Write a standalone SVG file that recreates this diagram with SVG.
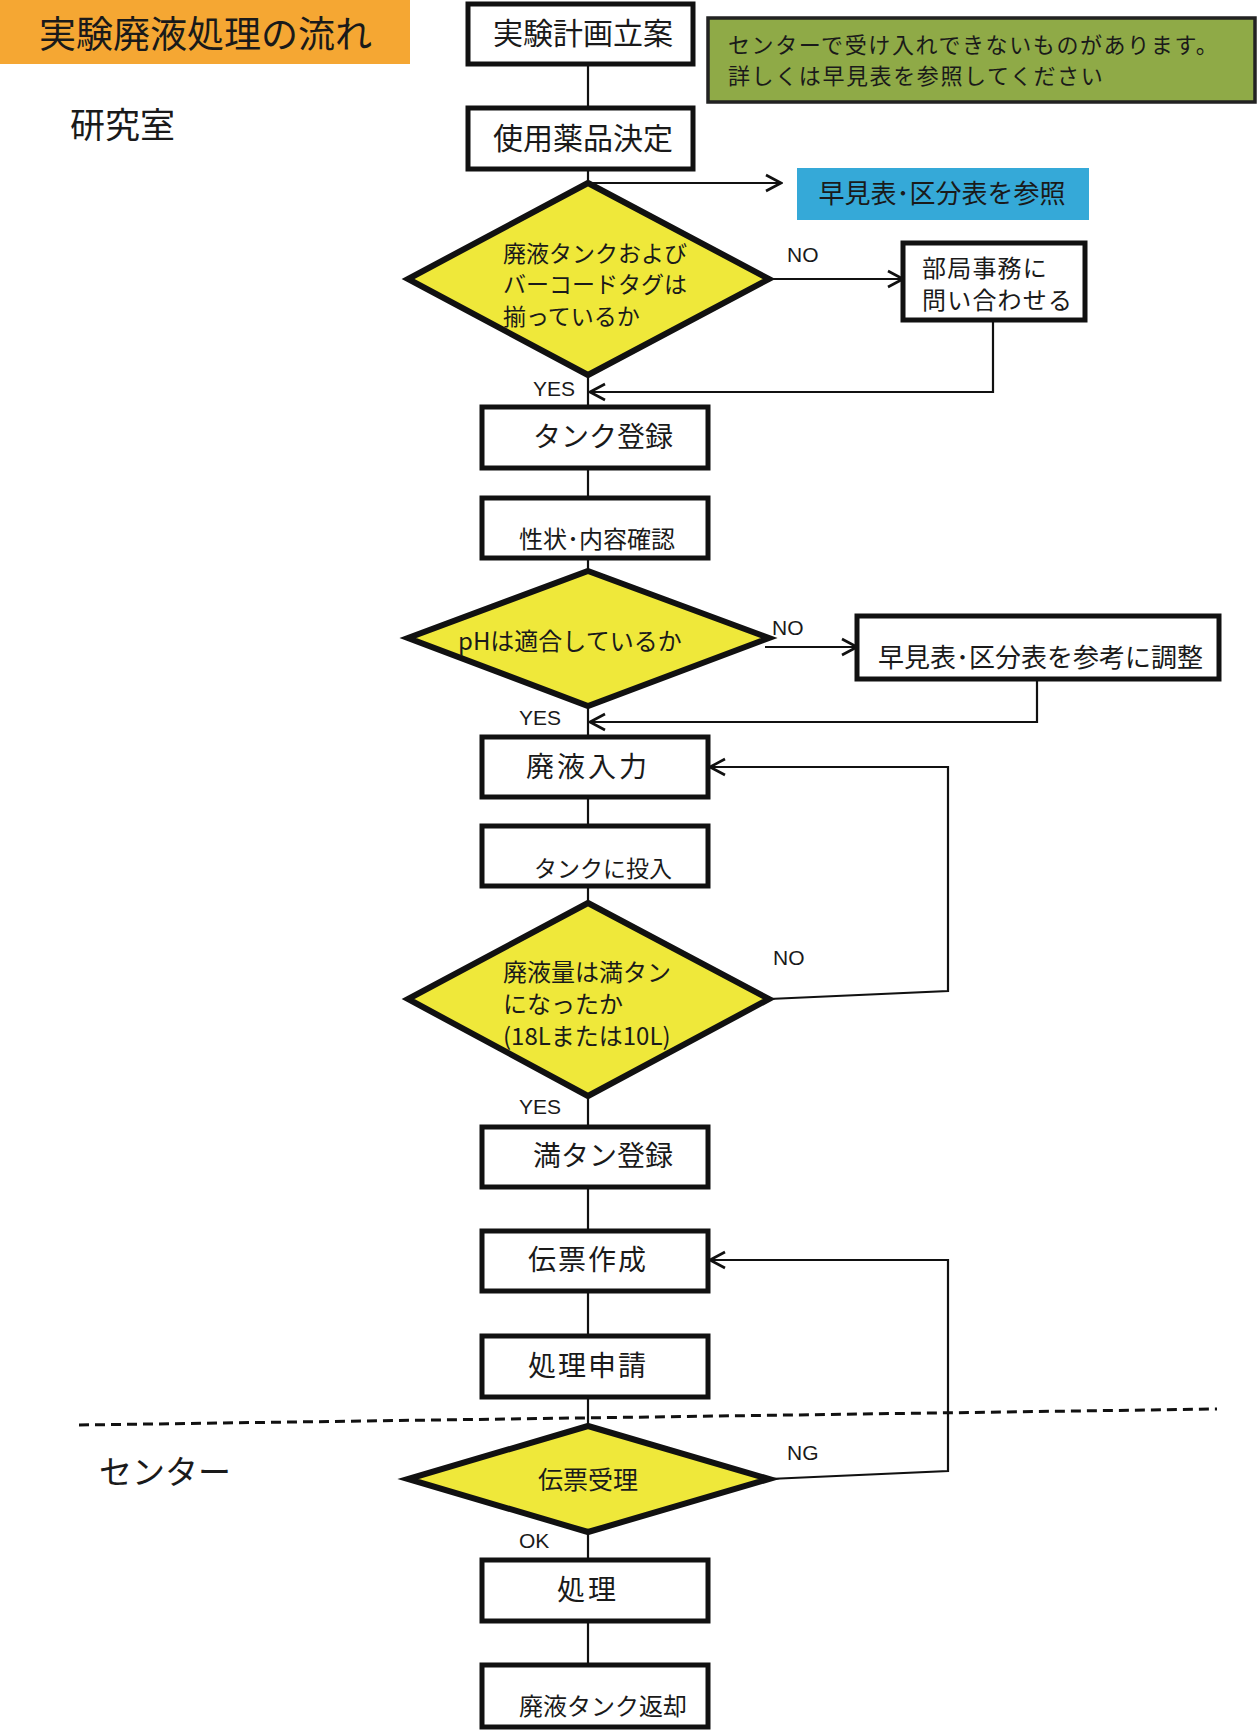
<svg xmlns="http://www.w3.org/2000/svg" width="1258" height="1730" viewBox="0 0 1258 1730">
<defs>
<style>
.t{font-family:"Noto Sans CJK JP","Noto Sans",sans-serif;fill:#1a1a1a;}
.l{font-family:"Liberation Sans","Noto Sans",sans-serif;fill:#1a1a1a;font-size:21px;}
.box{fill:#fff;stroke:#111;stroke-width:5;}
.dia{fill:#EFE83A;stroke:#111;stroke-width:6;stroke-linejoin:miter;}
.c{fill:none;stroke:#111;stroke-width:2.2;}
</style>
<marker id="ah" viewBox="0 0 20 20" refX="18" refY="10" markerWidth="20" markerHeight="20" markerUnits="userSpaceOnUse" orient="auto">
<path d="M3,2 L18,10 L3,18" fill="none" stroke="#111" stroke-width="2.6"/>
</marker>
</defs>
<rect width="1258" height="1730" fill="#fff"/>

<g id="title">
<rect x="0" y="0" width="410" height="64" fill="#F5A733"/>
<text class="t" x="39" y="48" font-size="37">実験廃液処理の流れ</text>
</g>
<g id="lab-label"><text class="t" x="70" y="138" font-size="35">研究室</text></g>
<g id="center-label"><text class="t" x="99" y="1484" font-size="33">センター</text></g>

<g id="note">
<rect x="708" y="18" width="547" height="84" fill="#8FAA47" stroke="#222" stroke-width="3.5"/>
<text class="t" x="728" y="53" font-size="22" letter-spacing="1.6">センターで受け入れできないものがあります。</text>
<text class="t" x="728" y="84" font-size="22" letter-spacing="1.6">詳しくは早見表を参照してください</text>
</g>

<g id="connectors">
<line class="c" x1="588" y1="64" x2="588" y2="107"/>
<line class="c" x1="588" y1="169" x2="588" y2="183"/>
<line class="c" x1="588" y1="183" x2="781" y2="183" marker-end="url(#ah)"/>
<line class="c" x1="769" y1="279" x2="903" y2="279" marker-end="url(#ah)"/>
<polyline class="c" points="993,320 993,392 590,392" marker-end="url(#ah)"/>
<line class="c" x1="588" y1="375" x2="588" y2="406"/>
<line class="c" x1="588" y1="468" x2="588" y2="497"/>
<line class="c" x1="588" y1="558" x2="588" y2="571"/>
<line class="c" x1="765" y1="647" x2="857" y2="647" marker-end="url(#ah)"/>
<polyline class="c" points="1037,679 1037,722 590,722" marker-end="url(#ah)"/>
<line class="c" x1="588" y1="706" x2="588" y2="736"/>
<line class="c" x1="588" y1="797" x2="588" y2="825"/>
<line class="c" x1="588" y1="886" x2="588" y2="903"/>
<polyline class="c" points="769,999 948,991 948,767 710,767" marker-end="url(#ah)"/>
<line class="c" x1="588" y1="1096" x2="588" y2="1126"/>
<line class="c" x1="588" y1="1187" x2="588" y2="1230"/>
<line class="c" x1="588" y1="1291" x2="588" y2="1335"/>
<line class="c" x1="588" y1="1397" x2="588" y2="1426"/>
<polyline class="c" points="769,1479 948,1471 948,1260 710,1260" marker-end="url(#ah)"/>
<line class="c" x1="588" y1="1532" x2="588" y2="1559"/>
<line class="c" x1="588" y1="1621" x2="588" y2="1664"/>
<line x1="79" y1="1425" x2="1217" y2="1409" stroke="#111" stroke-width="3" stroke-dasharray="10,6"/>
<text class="l" x="787" y="262">NO</text>
<text class="l" x="533" y="396">YES</text>
<text class="l" x="772" y="635">NO</text>
<text class="l" x="519" y="725">YES</text>
<text class="l" x="773" y="965">NO</text>
<text class="l" x="519" y="1114">YES</text>
<text class="l" x="787" y="1460">NG</text>
<text class="l" x="519" y="1548">OK</text>
</g>

<g id="n1"><rect class="box" x="468" y="4" width="225" height="60"/><text class="t" x="583" y="44" font-size="30" text-anchor="middle">実験計画立案</text></g>
<g id="n2"><rect class="box" x="468" y="108" width="225" height="61"/><text class="t" x="583" y="149" font-size="30" text-anchor="middle">使用薬品決定</text></g>
<g id="ref1"><rect x="797" y="168" width="292" height="52" fill="#35A9D8"/><text class="t" x="942" y="203" font-size="26" text-anchor="middle">早見表･区分表を参照</text></g>

<g id="d1"><polygon class="dia" points="588,183 769,279 588,375 408,279"/>
<text class="t" x="503" y="262" font-size="23">廃液タンクおよび</text>
<text class="t" x="503" y="293" font-size="23">バーコードタグは</text>
<text class="t" x="503" y="325" font-size="23">揃っているか</text></g>

<g id="n3"><rect class="box" x="903" y="243" width="182" height="77"/>
<text class="t" x="922" y="277" font-size="24" letter-spacing="1.2">部局事務に</text>
<text class="t" x="922" y="309" font-size="24" letter-spacing="1.2">問い合わせる</text></g>

<g id="n4"><rect class="box" x="482" y="407" width="226" height="61"/><text class="t" x="603" y="447" font-size="28" text-anchor="middle">タンク登録</text></g>
<g id="n5"><rect class="box" x="482" y="498" width="226" height="60"/><text class="t" x="519" y="548" font-size="24">性状･内容確認</text></g>

<g id="d2"><polygon class="dia" points="588,571 769,638 588,706 408,638"/>
<text class="t" x="458" y="650" font-size="24">pHは適合しているか</text></g>

<g id="n6"><rect class="box" x="857" y="616" width="362" height="63"/><text class="t" x="878" y="667" font-size="26">早見表･区分表を参考に調整</text></g>

<g id="n7"><rect class="box" x="482" y="737" width="226" height="60"/><text class="t" x="588" y="777" font-size="28" text-anchor="middle" letter-spacing="3">廃液入力</text></g>
<g id="n8"><rect class="box" x="482" y="826" width="226" height="60"/><text class="t" x="534" y="877" font-size="23">タンクに投入</text></g>

<g id="d3"><polygon class="dia" points="588,903 769,999 588,1096 408,999"/>
<text class="t" x="503" y="981" font-size="24">廃液量は満タン</text>
<text class="t" x="503" y="1013" font-size="24">になったか</text>
<text class="t" x="503" y="1045" font-size="24">(18Lまたは10L)</text></g>

<g id="n9"><rect class="box" x="482" y="1127" width="226" height="60"/><text class="t" x="603" y="1166" font-size="28" text-anchor="middle">満タン登録</text></g>
<g id="n10"><rect class="box" x="482" y="1231" width="226" height="60"/><text class="t" x="588" y="1270" font-size="28" text-anchor="middle" letter-spacing="2">伝票作成</text></g>
<g id="n11"><rect class="box" x="482" y="1336" width="226" height="61"/><text class="t" x="588" y="1376" font-size="28" text-anchor="middle" letter-spacing="2">処理申請</text></g>

<g id="d4"><polygon class="dia" points="588,1426 769,1479 588,1532 408,1479"/>
<text class="t" x="588" y="1489" font-size="25" text-anchor="middle">伝票受理</text></g>

<g id="n12"><rect class="box" x="482" y="1560" width="226" height="61"/><text class="t" x="588" y="1600" font-size="28" text-anchor="middle" letter-spacing="3">処理</text></g>
<g id="n13"><rect class="box" x="482" y="1665" width="226" height="62"/><text class="t" x="519" y="1715" font-size="24">廃液タンク返却</text></g>
</svg>
